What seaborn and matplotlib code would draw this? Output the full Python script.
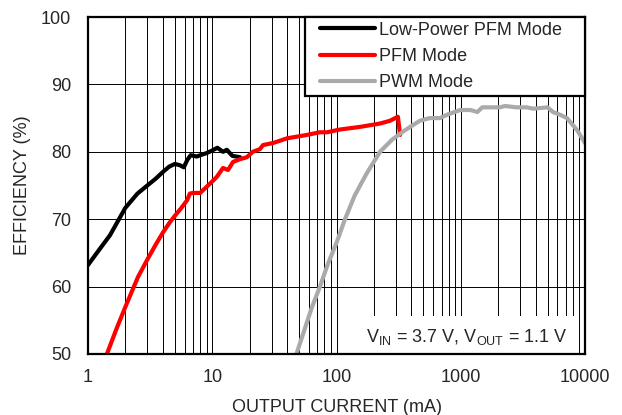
import numpy as np
import pandas as pd
import matplotlib
matplotlib.use("Agg")
import matplotlib.pyplot as plt
import matplotlib.ticker as mticker
from matplotlib.lines import Line2D
from matplotlib.legend_handler import HandlerLine2D
import seaborn as sns

sns.set_style("white")
plt.rcParams["font.family"] = ["Liberation Sans", "DejaVu Sans"]
plt.rcParams["mathtext.fontset"] = "custom"
plt.rcParams["mathtext.rm"] = "Liberation Sans"
plt.rcParams["mathtext.it"] = "Liberation Sans:italic"

# --- data ---
lp_current = [1, 1.2, 1.5, 1.75, 2, 2.5, 3, 3.5, 4, 4.5, 5, 5.5, 5.9, 6.3,
              6.7, 7.5, 8.3, 9, 10, 11, 12.2, 13.1, 14.5, 16.7]
lp_eff = [63.2, 65.2, 67.6, 69.8, 71.7, 73.8, 75.0, 76.0, 77.0, 77.8, 78.2,
          78.0, 77.7, 78.8, 79.5, 79.3, 79.6, 79.8, 80.2, 80.6, 80.0, 80.3,
          79.4, 79.2]

pfm_current = [1.42, 1.7, 2, 2.52, 3, 3.5, 4, 4.5, 5, 5.6, 6.27, 6.6, 7, 8,
               9, 10, 10.9, 12.2, 13.4, 14.7, 16.7, 19, 21.2, 24.2, 25.6,
               30.8, 40, 57.6, 73.6, 84, 106, 155, 224, 269, 312, 325]
pfm_eff = [50, 53.8, 57, 61.4, 64, 66.2, 68, 69.4, 70.5, 71.6, 72.8, 73.8,
           73.9, 73.9, 74.8, 75.6, 76.3, 77.6, 77.3, 78.5, 78.9, 79.2, 80.0,
           80.4, 81.0, 81.3, 82.0, 82.5, 82.9, 82.9, 83.3, 83.7, 84.2, 84.6,
           85.2, 82.5]

pwm_current = [47.6, 55, 63, 73.6, 85, 100, 117, 140, 175, 224, 280, 343,
               400, 468, 560, 680, 800, 990, 1200, 1360, 1490, 2070, 2270,
               2800, 3400, 3830, 4990, 5530, 6300, 7160, 8650, 10000]
pwm_eff = [50, 53.5, 56.8, 60, 63.3, 66.5, 70, 73.5, 76.8, 80, 81.8, 83,
           83.8, 84.6, 85, 85, 85.6, 86.2, 86.2, 85.9, 86.6, 86.6, 86.8,
           86.6, 86.6, 86.4, 86.6, 85.9, 85.5, 85, 83.2, 81.3]

modes = ["Low-Power PFM Mode", "PFM Mode", "PWM Mode"]
colors = {"Low-Power PFM Mode": "black", "PFM Mode": "#ff0000",
          "PWM Mode": "#aaaaaa"}

df = pd.concat([
    pd.DataFrame({"Current": lp_current, "Eff": lp_eff, "Mode": modes[0]}),
    pd.DataFrame({"Current": pfm_current, "Eff": pfm_eff, "Mode": modes[1]}),
    pd.DataFrame({"Current": pwm_current, "Eff": pwm_eff, "Mode": modes[2]}),
], ignore_index=True)

fig, ax = plt.subplots(figsize=(6.22, 4.15), dpi=100)
fig.subplots_adjust(left=0.1415, right=0.9405, top=0.959, bottom=0.147)

sns.lineplot(data=df, x="Current", y="Eff", hue="Mode", hue_order=modes,
             palette=colors, estimator=None, sort=False, lw=3, ax=ax)

ax.set_xscale("log")
ax.set_xlim(1, 10000)
ax.set_ylim(50, 100)
ax.set_yticks(np.arange(50, 101, 10))
ax.xaxis.set_major_locator(mticker.LogLocator(base=10))
ax.xaxis.set_minor_locator(mticker.LogLocator(base=10, subs=np.arange(2, 10)))
ax.xaxis.set_major_formatter(mticker.FuncFormatter(lambda v, _: f"{v:g}"))
ax.xaxis.set_minor_formatter(mticker.NullFormatter())

ax.grid(which="both", axis="x", color="black", lw=0.7)
ax.grid(which="major", axis="y", color="black", lw=0.7)
ax.tick_params(which="both", length=0, labelsize=13)
ax.tick_params(axis="x", pad=11)
ax.tick_params(axis="y", pad=12)

ax.set_xlabel("OUTPUT CURRENT (mA)", fontsize=13, labelpad=9)
ax.set_ylabel("EFFICIENCY (%)", fontsize=13, labelpad=7)

for sp in ax.spines.values():
    sp.set_color("black")
    sp.set_linewidth(1.6)
    sp.set_zorder(5)

handles, labels = ax.get_legend_handles_labels()
leg = ax.legend(handles, labels, loc="upper left",
                bbox_to_anchor=(0.4366, 0, 0.5634, 1), mode="expand",
                borderaxespad=0, fontsize=13, frameon=True, fancybox=False,
                framealpha=1, edgecolor="black", handlelength=3.6,
                handletextpad=0.25, labelspacing=0.52, borderpad=0.25,
                handler_map={Line2D: HandlerLine2D(xpad=0.6)})
leg.get_frame().set_linewidth(1.6)
leg.set_zorder(6)
for h in leg.get_lines():
    h.set_linewidth(3)
    h.set_solid_capstyle("round")

ax.text(0.964, 0.036, r"V$_{\mathrm{IN}}$ = 3.7 V, V$_{\mathrm{OUT}}$ = 1.1 V",
        transform=ax.transAxes, ha="right", va="baseline", fontsize=13,
        zorder=4, bbox=dict(boxstyle="square,pad=0.6", fc="white", ec="none"))

fig.savefig("out.png", dpi=100)
